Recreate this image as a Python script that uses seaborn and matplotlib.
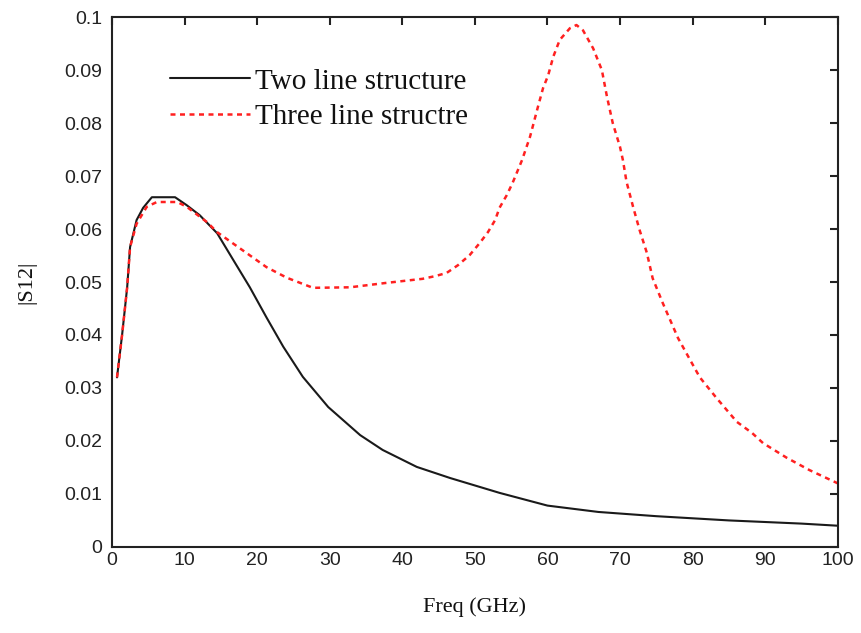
import matplotlib
matplotlib.use("Agg")
import matplotlib.pyplot as plt
import seaborn as sns
import pandas as pd

# Data
two_x = [0.7, 1.4, 2.1, 2.5, 3.4, 4.3, 5.5, 8.7, 10.3, 12.1, 14.5, 16.7, 19, 21.3, 23.6,
         26.3, 29.8, 34.2, 37.3, 42, 46.6, 53.4, 60, 67, 75, 85, 95, 100]
two_y = [0.032, 0.040, 0.049, 0.0566, 0.0617, 0.064, 0.066, 0.066, 0.0645, 0.0626, 0.0592,
         0.0542, 0.049, 0.0433, 0.0378, 0.0321, 0.0264, 0.0211, 0.0183, 0.0151, 0.013,
         0.0102, 0.0078, 0.0066, 0.0058, 0.0050, 0.0044, 0.0040]

three_x = [0.7, 1.4, 2.1, 2.5, 3.4, 4.8, 6.2, 9, 10.3, 13.1, 14.5, 18, 21.3, 24.1, 27.7,
           32.8, 37.6, 42.8, 44.5, 46.1, 47.7, 49.3, 50.7, 51.8, 52.8, 53.4, 54.4, 55.2,
           56.5, 57.6, 58.7, 59.4, 60.1, 60.8, 61.7, 63.1, 64, 64.9, 66.3, 67.5, 68.2, 69,
           70, 70.4, 70.9, 71.8, 72.7, 73.7, 74.5, 75.9, 78, 79.9, 81, 83.3, 86.1, 88.2,
           89.7, 93, 96.1, 100]
three_y = [0.032, 0.040, 0.049, 0.0566, 0.061, 0.0642, 0.0651, 0.0651, 0.0642, 0.0613,
           0.0594, 0.056, 0.0528, 0.0508, 0.0489, 0.049, 0.0498, 0.0506, 0.0511, 0.0517,
           0.0532, 0.0551, 0.0574, 0.0594, 0.0617, 0.064, 0.0664, 0.0687, 0.073, 0.0774,
           0.0831, 0.0866, 0.089, 0.0925, 0.0957, 0.0979, 0.0985, 0.0975, 0.0941, 0.09,
           0.085, 0.08, 0.0755, 0.073, 0.0689, 0.0642, 0.0598, 0.0555, 0.0507, 0.046,
           0.0394, 0.0347, 0.032, 0.0281, 0.0236, 0.0215, 0.0196, 0.0168, 0.0145, 0.012]

series_names = ["Two line structure", "Three line structre"]

x_ticks = [0, 10, 20, 30, 40, 50, 60, 70, 80, 90, 100]
y_ticks = [0, 0.01, 0.02, 0.03, 0.04, 0.05, 0.06, 0.07, 0.08, 0.09, 0.1]
y_tick_labels = ["0", "0.01", "0.02", "0.03", "0.04", "0.05", "0.06", "0.07", "0.08", "0.09", "0.1"]

sns.set_style("white")

df_two = pd.DataFrame({"x": two_x, "y": two_y})
df_three = pd.DataFrame({"x": three_x, "y": three_y})

fig = plt.figure(figsize=(8.61, 6.33), dpi=100)
ax = fig.add_axes([0.130, 0.136, 0.843, 0.837])

sns.lineplot(data=df_two, x="x", y="y", ax=ax, color="#1a1a1a", linewidth=1.5,
             label=series_names[0])
sns.lineplot(data=df_three, x="x", y="y", ax=ax, color="#ff2020", linewidth=1.8,
             linestyle=(0, (2, 1.8)), label=series_names[1])

ax.set_xlim(0, 100)
ax.set_ylim(0, 0.1)
ax.set_xticks(x_ticks)
ax.set_xticklabels([str(t) for t in x_ticks], family="Liberation Sans", fontsize=14)
ax.set_yticks(y_ticks)
ax.set_yticklabels(y_tick_labels, family="Liberation Sans", fontsize=14)
ax.tick_params(direction="in", length=6, width=1.5, top=True, right=True,
               color="#222222", labelcolor="#222222")
ax.tick_params(axis="x", pad=4)
ax.tick_params(axis="y", pad=7)
for s in ax.spines.values():
    s.set_visible(True)
    s.set_color("#222222")
    s.set_linewidth(1.5)

ax.set_xlabel("Freq (GHz)", family="Liberation Serif", fontsize=16, color="#111111", labelpad=20)
ax.set_ylabel("|S12|", family="Liberation Serif", fontsize=16, color="#111111", labelpad=20)

leg = ax.legend(loc="upper left", bbox_to_anchor=(0.044, 0.953), frameon=False,
                prop={"family": "Liberation Serif", "size": 21}, handlelength=2.74,
                handletextpad=0.17, labelspacing=0.3)
for t in leg.get_texts():
    t.set_color("#111111")

fig.savefig("out.png", dpi=100, facecolor="white")
